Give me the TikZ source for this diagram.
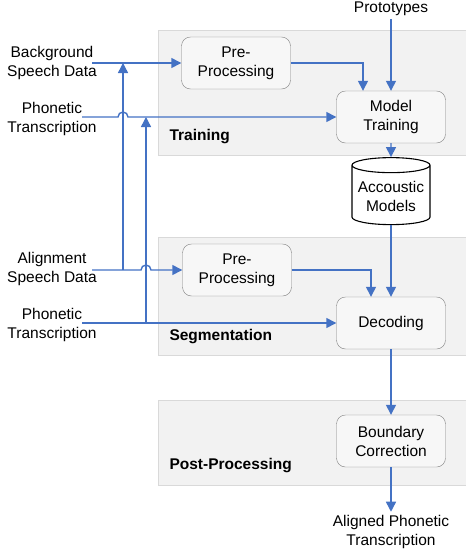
\documentclass[tikz,border=0pt]{standalone}
\usepackage{fontspec}
\setmainfont{Liberation Sans}
\usetikzlibrary{arrows.meta, shapes.geometric, positioning, calc}
\definecolor{FlowBlue}{RGB}{68,114,196}
\definecolor{PanelGray}{RGB}{242,242,242}
\definecolor{PanelLine}{RGB}{217,217,217}
\definecolor{BoxLine}{RGB}{128,128,128}

\begin{document}
\begin{tikzpicture}[x=1pt, y=-1pt, font=\fontsize{15.5}{19}\selectfont,
	proc/.style={rectangle, rounded corners=9pt, draw=BoxLine, fill=white!97!black, minimum width=109pt, minimum height=52pt, align=center, inner sep=2pt},
	db/.style={cylinder, shape border rotate=90, aspect=0.22, draw, line width=1.1pt, fill=white, minimum width=78pt, minimum height=67pt, align=center, inner sep=1pt},
	fase/.style={fill=PanelGray, draw=PanelLine},
	etq/.style={align=center},
	tit/.style={font=\fontsize{15.5}{19}\selectfont\bfseries, anchor=west},
	fl/.style={-{Triangle[length=10pt, width=10pt]}, line width=1.4pt, FlowBlue}]

	\useasboundingbox (0,0) rectangle (466,552);
	\draw[fase] (158,30) rectangle (467,155);
	\draw[fase] (158,237) rectangle (467,355);
	\draw[fase] (158,400) rectangle (467,485);

	\node[tit] (t1) at (166,137) {Training};
	\node[tit] (t2) at (166,337) {Segmentation};
	\node[tit] (t3) at (166,466) {Post-Processing};

	\node       (pr)  at (391,9)   {Prototypes};
	\node[proc] (pp1) at (236,63)  {Pre-\\Processing};
	\node[proc] (mt)  at (391,117) {Model\\Training};
	\node[db]   (am)  at (391,196) {Accoustic\\Models};
	\node[proc] (pp2) at (237,270) {Pre-\\Processing};
	\node[proc] (dc)  at (391,323) {Decoding};
	\node[proc] (bc)  at (391,441) {Boundary\\Correction};
	\node[etq]  (out) at (391,532) {Aligned Phonetic\\Transcription};

	\node[etq] (bg)  at (52,63)  {Background\\Speech Data};
	\node[etq] (ph1) at (52,119) {Phonetic\\Transcription};
	\node[etq] (al)  at (52,269) {Alignment\\Speech Data};
	\node[etq] (ph2) at (52,325) {Phonetic\\Transcription};

	\coordinate (bgs)  at (92,63);
	\coordinate (ph1s) at (82,117);
	\coordinate (als)  at (92,270);
	\coordinate (ph2s) at (82,323);
	\coordinate (j1)   at (123,270);
	\coordinate (j2)   at (146,323);

	\draw[fl] (pr) -- (mt);
	\draw[fl] (mt) -- (am);
	\draw[fl] (am) -- (dc);
	\draw[fl] (dc) -- (bc);
	\draw[fl] (bc) -- (out);
	\draw[fl] (pp1) -| ([xshift=-28pt]mt.north);
	\draw[fl] (pp2) -| ([xshift=-20pt]dc.north);
	\draw[fl] (bgs) -- (pp1);
	\draw[fl] (ph2s) -- (dc);
	% saltos donde las líneas horizontales cruzan a las verticales
	\draw[fl] (ph1s) -- ++(36,0) arc[start angle=180, end angle=0, radius=5pt] -- (mt.west);
	\draw[fl] (als) -- ++(49,0) arc[start angle=180, end angle=0, radius=5pt] -- (pp2.west);
	\draw[fl] (j1) -- (j1 |- bgs);
	\draw[fl] (j2) -- (j2 |- ph1s);
\end{tikzpicture}
\end{document}
